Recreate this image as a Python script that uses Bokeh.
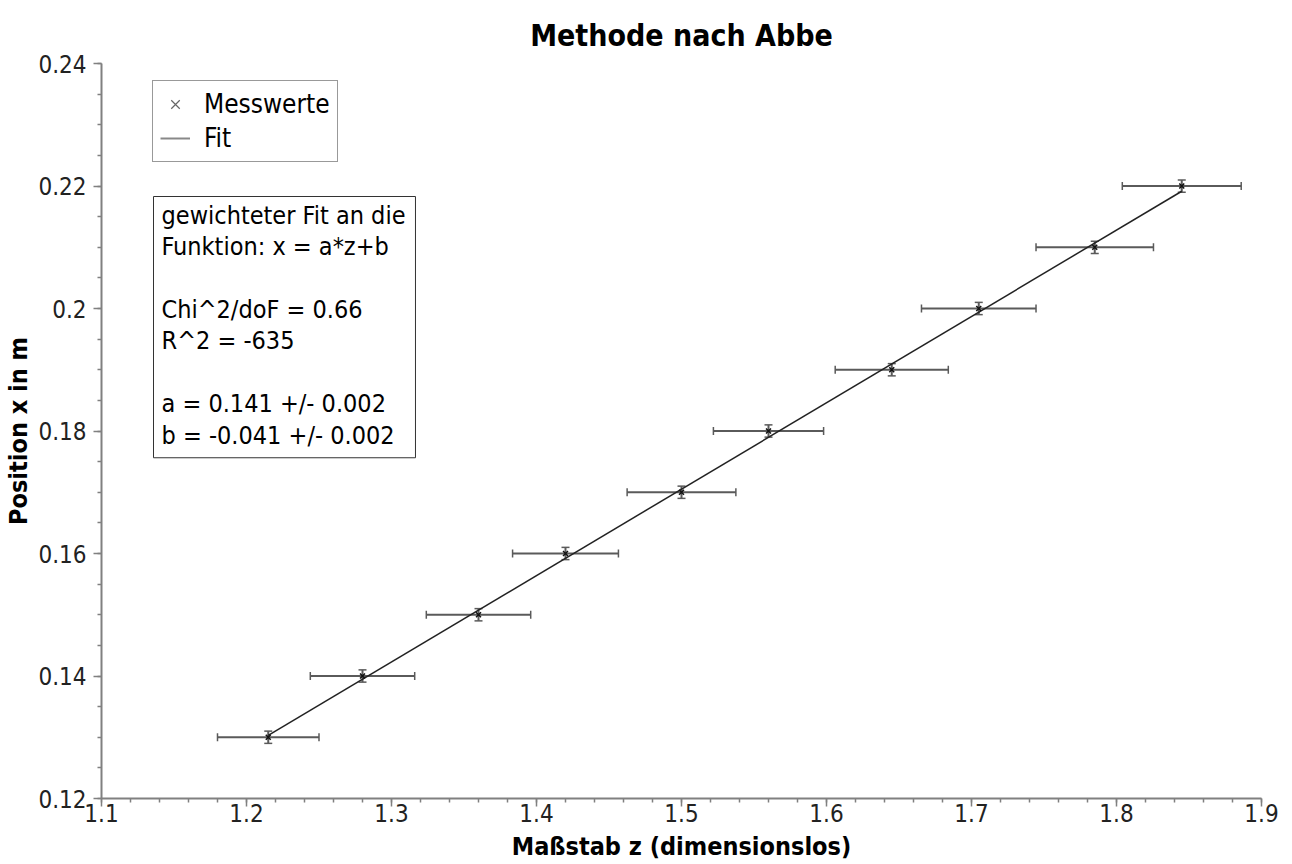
import numpy as np
from bokeh.plotting import figure
from bokeh.models import (ColumnDataSource, Range1d, FixedTicker, PrintfTickFormatter,
                          Whisker, TeeHead, Legend, LegendItem, Label)
from bokeh.embed import file_html
from bokeh.resources import INLINE

# ---- data ----
z_values = [1.215, 1.28, 1.36, 1.42, 1.5, 1.56, 1.645, 1.705, 1.785, 1.845]
x_values = [0.13, 0.14, 0.15, 0.16, 0.17, 0.18, 0.19, 0.20, 0.21, 0.22]
z_errors = [0.035, 0.036, 0.036, 0.0365, 0.0375, 0.038, 0.039, 0.0395, 0.0405, 0.041]
x_errors = [0.001, 0.001, 0.001, 0.001, 0.001, 0.001, 0.001, 0.001, 0.001, 0.001]
fit_a = 0.141
fit_b = -0.041

x_ticks = [1.1, 1.2, 1.3, 1.4, 1.5, 1.6, 1.7, 1.8, 1.9]
y_ticks = [0.12, 0.14, 0.16, 0.18, 0.20, 0.22, 0.24]

title_text = "Methode nach Abbe"
x_label = "Maßstab z (dimensionslos)"
y_label = "Position x in m"
legend_labels = ["Messwerte", "Fit"]
info_lines = [
    "gewichteter Fit an die",
    "Funktion: x = a*z+b",
    "",
    "Chi^2/doF = 0.66",
    "R^2 = -635",
    "",
    "a = 0.141 +/- 0.002",
    "b = -0.041 +/- 0.002",
]

FONT = "DejaVu Sans Condensed, DejaVu Sans"
AXIS_GRAY = "#808080"

z = np.array(z_values)
xv = np.array(x_values)
src = ColumnDataSource(dict(
    z=z, x=xv,
    zl=z - np.array(z_errors), zh=z + np.array(z_errors),
    xl=xv - np.array(x_errors), xh=xv + np.array(x_errors),
))

p = figure(width=1292, height=864, output_backend="svg", toolbar_location=None,
           x_range=Range1d(1.1, 1.9), y_range=Range1d(0.12, 0.24),
           min_border_left=101, min_border_right=31, min_border_top=63, min_border_bottom=66)
p.outline_line_color = None
p.background_fill_color = "white"
p.border_fill_color = "white"
p.xgrid.visible = False
p.ygrid.visible = False

# title
p.title.text = title_text
p.title.align = "center"
p.title.text_font = FONT
p.title.text_font_style = "bold"
p.title.text_font_size = "30px"
p.title.text_color = "black"
p.title.standoff = 22

# axes
x_minor = [round(x_ticks[0] + 0.02 * i, 4) for i in range(int(round((x_ticks[-1] - x_ticks[0]) / 0.02)) + 1)]
y_minor = [round(y_ticks[0] + 0.005 * i, 4) for i in range(int(round((y_ticks[-1] - y_ticks[0]) / 0.005)) + 1)]
p.xaxis.ticker = FixedTicker(ticks=x_ticks, minor_ticks=x_minor)
p.yaxis.ticker = FixedTicker(ticks=y_ticks, minor_ticks=y_minor)
p.xaxis.formatter = PrintfTickFormatter(format="%.3g")
p.yaxis.formatter = PrintfTickFormatter(format="%.3g")
for ax in (p.xaxis[0], p.yaxis[0]):
    ax.axis_line_color = AXIS_GRAY
    ax.axis_line_width = 2
    ax.major_tick_line_color = AXIS_GRAY
    ax.minor_tick_line_color = AXIS_GRAY
    ax.major_tick_line_width = 1.5
    ax.minor_tick_line_width = 1.5
    ax.major_tick_in = 0
    ax.major_tick_out = 8
    ax.minor_tick_in = 0
    ax.minor_tick_out = 4
    ax.major_label_text_font = FONT
    ax.major_label_text_font_size = "24px"
    ax.major_label_text_color = "#222222"
    ax.axis_label_text_font = FONT
    ax.axis_label_text_font_style = "bold"
    ax.axis_label_text_font_size = "25px"
    ax.axis_label_text_color = "black"
p.xaxis.axis_label = x_label
p.yaxis.axis_label = y_label
p.xaxis.major_label_standoff = -3
p.xaxis.axis_label_standoff = 7
p.yaxis.major_label_standoff = 7
p.yaxis.axis_label_standoff = 2

# error bars
ERR = "#5a5a5a"
p.add_layout(Whisker(source=src, base="x", lower="zl", upper="zh", dimension="width",
                     line_color=ERR, line_width=2,
                     upper_head=TeeHead(size=8, line_color=ERR, line_width=1.5),
                     lower_head=TeeHead(size=8, line_color=ERR, line_width=1.5)))
p.add_layout(Whisker(source=src, base="z", lower="xl", upper="xh", dimension="height",
                     line_color=ERR, line_width=2,
                     upper_head=TeeHead(size=8, line_color=ERR, line_width=1.5),
                     lower_head=TeeHead(size=8, line_color=ERR, line_width=1.5)))

# fit line from parameters over measured range
zf = np.array([z.min(), z.max()])
p.line(zf, fit_a * zf + fit_b, line_color="#222222", line_width=1.5)

# measured points
p.scatter("z", "x", source=src, marker="x", size=7, line_color="#111111", line_width=1.5)

# legend (renderers placed outside the visible range, only their legend glyphs show)
leg_m = p.scatter([0.0], [0.0], marker="x", size=7, line_color="#666666", line_width=1.2)
leg_l = p.line([0.0, 0.01], [0.0, 0.0], line_color="#888888", line_width=2)
legend = Legend(items=[LegendItem(label=legend_labels[0], renderers=[leg_m]),
                       LegendItem(label=legend_labels[1], renderers=[leg_l])],
                location=(51, 636), orientation="vertical")
legend.label_text_font = FONT
legend.label_text_font_size = "26px"
legend.label_text_color = "black"
legend.label_height = 32
legend.glyph_height = 32
legend.glyph_width = 30
legend.label_standoff = 14
legend.spacing = 2
legend.padding = 7
legend.margin = 0
legend.border_line_color = "#333333"
legend.border_line_width = 1
legend.background_fill_color = "white"
legend.background_fill_alpha = 1
p.add_layout(legend, "center")

# info box
info = Label(x=52, y=602, x_units="screen", y_units="screen", anchor="top_left",
             text="\n".join(info_lines), text_font=FONT, text_font_size="25px",
             text_color="black", text_line_height=1.085,
             border_line_color="#333333", border_line_width=1,
             background_fill_color="white",
             padding=dict(left=8, right=10, top=4, bottom=8))
p.add_layout(info)

open("out.html", "w").write(file_html(p, INLINE))
